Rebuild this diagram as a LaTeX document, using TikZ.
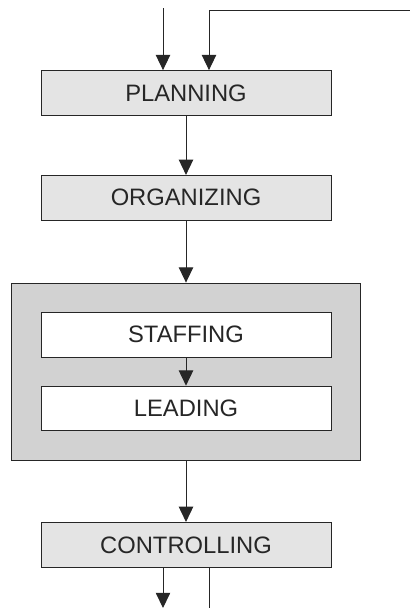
\documentclass[tikz,border=0pt]{standalone}
\usepackage{fontspec}
\setmainfont{Liberation Sans}
\usepackage{xcolor}
\usepackage{tikz}
\usetikzlibrary{arrows.meta, positioning, fit, backgrounds}
\definecolor{boxgray}{HTML}{E4E4E4}
\definecolor{outergray}{HTML}{D2D2D2}
\definecolor{inkgray}{HTML}{262626}
\tikzstyle{stage} = [rectangle, minimum width=7.25cm, minimum height=1.12cm, text centered, draw=inkgray, line width=0.7pt, fill=boxgray, text=inkgray, font=\fontsize{16.9}{20}\selectfont]
\tikzstyle{inner} = [stage, fill=white]
\tikzstyle{group} = [rectangle, draw=inkgray, line width=0.7pt, fill=outergray, inner sep=0.72cm]
\tikzstyle{arrow} = [line width=0.7pt, draw=inkgray, -{Triangle[width=0.36cm,length=0.38cm]}]
\tikzstyle{line} = [line width=0.7pt, draw=inkgray]

\begin{document}
\begin{tikzpicture}[node distance=1.5cm]
\useasboundingbox (0,0) rectangle (10.25,-15.2);
\node (planning) [stage] at (4.65,-2.325) {PLANNING};
\node (organizing) [stage, below=1.475cm of planning] {ORGANIZING};
\node (staffing) [inner, below=2.28cm of organizing] {STAFFING};
\node (leading) [inner, below=0.7cm of staffing] {LEADING};
\begin{scope}[on background layer]
\node (team) [group, fit=(staffing)(leading)] {};
\end{scope}
\node (controlling) [stage, below=1.53cm of team] {CONTROLLING};

% inputs and outputs at the edges
\coordinate (inA) at (4.075,-0.2);
\coordinate (inB) at (10.25,-0.25);
\coordinate (outA) at (4.075,-15.2);
\coordinate (outB) at (5.225,-15.2);

\draw [arrow] (inA) -- (inA |- planning.north);
\draw [arrow] (inB) -| (outB |- planning.north);
\draw [arrow] (planning) -- (organizing);
\draw [arrow] (organizing) -- (team);
\draw [arrow] (staffing) -- (leading);
\draw [arrow] (team) -- (controlling);
\draw [arrow] (outA |- controlling.south) -- (outA);
\draw [line] (outB |- controlling.south) -- (outB);
\end{tikzpicture}
\end{document}
